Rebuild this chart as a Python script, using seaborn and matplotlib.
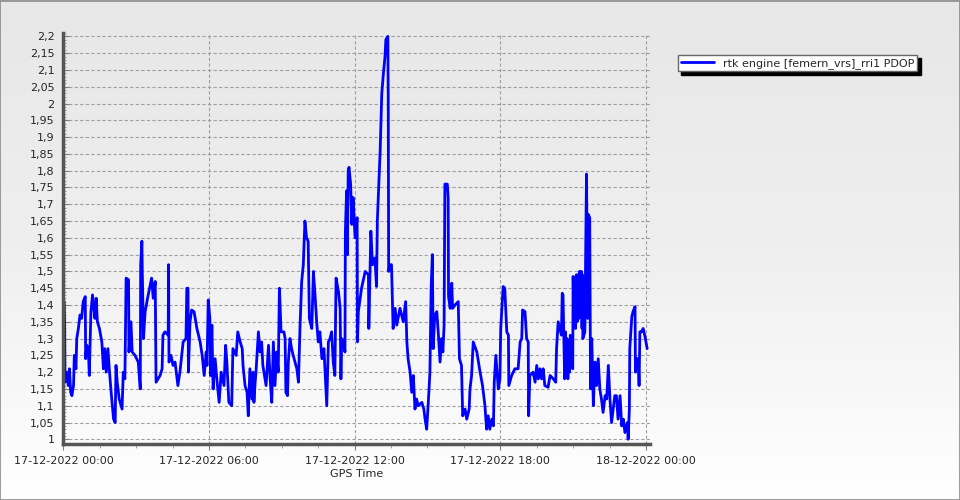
import numpy as np
import pandas as pd
import matplotlib
matplotlib.use('Agg')
import matplotlib.pyplot as plt
import matplotlib.dates as mdates
import matplotlib.ticker as mticker
from matplotlib.patches import Rectangle
import seaborn as sns

# minutes after 17-12-2022 00:00 and PDOP values
minutes = [2, 3, 4, 8, 12, 15, 18, 21, 25, 27, 31, 33, 37, 41, 45, 49, 54, 55, 58, 62,
           64, 68, 72, 74, 78, 81, 84, 89, 95, 99, 102, 106, 110, 114, 118, 124, 128, 130, 133, 138,
           145, 148, 152, 155, 161, 162, 167, 170, 177, 185, 190, 191, 194, 195, 198, 202, 208, 213, 218, 222,
           227, 229, 234, 239, 244, 246, 251, 259, 260, 261, 266, 271, 276, 283, 288, 296, 303, 305, 308, 309,
           313, 317, 323, 330, 338, 343, 348, 353, 355, 358, 362, 364, 367, 370, 375, 380, 385, 390, 397, 401,
           404, 409, 416, 419, 427, 431, 437, 442, 444, 449, 454, 457, 461, 466, 469, 471, 474, 476, 482, 486,
           490, 493, 501, 507, 511, 515, 519, 523, 527, 531, 534, 538, 545, 548, 550, 554, 556, 560, 564, 568,
           577, 581, 585, 589, 593, 597, 601, 605, 608, 614, 618, 622, 626, 630, 634, 639, 644, 651, 655, 659,
           663, 667, 671, 674, 680, 684, 686, 688, 692, 696, 697, 700, 702, 704, 706, 710, 713, 716, 721, 726,
           727, 729, 737, 746, 754, 755, 760, 764, 770, 774, 776, 778, 783, 787, 791, 795, 797, 802, 803, 804,
           807, 811, 815, 820, 824, 832, 840, 846, 849, 852, 857, 861, 865, 869, 873, 877, 886, 891, 894, 898,
           902, 906, 909, 912, 914, 918, 923, 927, 931, 935, 938, 941, 943, 949, 951, 952, 956, 960, 962, 968,
           976, 979, 984, 987, 993, 997, 1003, 1005, 1009, 1013, 1022, 1030, 1036, 1042, 1046, 1050, 1054, 1059, 1063, 1065,
           1069, 1072, 1075, 1079, 1081, 1087, 1091, 1096, 1100, 1101, 1108, 1116, 1124, 1129, 1133, 1135, 1141, 1145, 1149, 1150,
           1153, 1161, 1166, 1170, 1174, 1178, 1182, 1186, 1190, 1198, 1203, 1211, 1217, 1219, 1223, 1227, 1231, 1233, 1235, 1237,
           1239, 1241, 1243, 1245, 1247, 1249, 1251, 1253, 1255, 1257, 1259, 1260, 1262, 1264, 1266, 1268, 1270, 1272, 1274, 1276,
           1278, 1280, 1282, 1283, 1284, 1289, 1293, 1296, 1297, 1301, 1303, 1306, 1310, 1314, 1318, 1322, 1326, 1330, 1334, 1339,
           1343, 1347, 1351, 1355, 1359, 1363, 1367, 1371, 1376, 1380, 1384, 1388, 1394, 1396, 1399, 1400, 1405, 1408, 1413, 1414,
           1417, 1421, 1423, 1425, 1429, 1433, 1437, 1443]
pdop = [1.41, 1.35, 1.17, 1.20, 1.16, 1.21, 1.14, 1.13, 1.16, 1.25, 1.21, 1.30, 1.33, 1.37, 1.36, 1.41, 1.425, 1.24, 1.28, 1.26,
        1.19, 1.38, 1.43, 1.40, 1.36, 1.42, 1.35, 1.33, 1.29, 1.21, 1.27, 1.20, 1.27, 1.20, 1.14, 1.06, 1.05, 1.22, 1.17, 1.12,
        1.09, 1.20, 1.18, 1.48, 1.475, 1.26, 1.35, 1.26, 1.25, 1.23, 1.15, 1.52, 1.59, 1.50, 1.30, 1.38, 1.42, 1.45, 1.48, 1.42,
        1.47, 1.17, 1.18, 1.19, 1.21, 1.31, 1.32, 1.31, 1.52, 1.23, 1.25, 1.22, 1.23, 1.16, 1.20, 1.29, 1.30, 1.45, 1.45, 1.20,
        1.35, 1.385, 1.38, 1.33, 1.29, 1.25, 1.19, 1.26, 1.22, 1.415, 1.36, 1.19, 1.34, 1.15, 1.24, 1.17, 1.11, 1.20, 1.16, 1.28,
        1.23, 1.11, 1.10, 1.27, 1.25, 1.32, 1.29, 1.27, 1.22, 1.16, 1.14, 1.07, 1.21, 1.12, 1.20, 1.11, 1.17, 1.20, 1.32, 1.26,
        1.29, 1.22, 1.16, 1.28, 1.18, 1.11, 1.29, 1.16, 1.26, 1.20, 1.45, 1.32, 1.32, 1.30, 1.14, 1.13, 1.23, 1.30, 1.27, 1.25,
        1.21, 1.17, 1.34, 1.47, 1.52, 1.65, 1.60, 1.59, 1.36, 1.33, 1.50, 1.43, 1.35, 1.29, 1.32, 1.24, 1.27, 1.10, 1.29, 1.30,
        1.32, 1.23, 1.19, 1.48, 1.44, 1.39, 1.18, 1.30, 1.29, 1.26, 1.62, 1.74, 1.55, 1.80, 1.81, 1.76, 1.64, 1.72, 1.60, 1.66,
        1.29, 1.38, 1.45, 1.50, 1.49, 1.33, 1.62, 1.52, 1.54, 1.455, 1.65, 1.71, 1.86, 2.03, 2.09, 2.14, 2.19, 2.20, 2.00, 1.50,
        1.52, 1.52, 1.33, 1.39, 1.34, 1.39, 1.35, 1.41, 1.29, 1.24, 1.20, 1.14, 1.19, 1.09, 1.12, 1.10, 1.11, 1.09, 1.06, 1.03,
        1.11, 1.20, 1.45, 1.55, 1.27, 1.37, 1.38, 1.31, 1.23, 1.30, 1.26, 1.34, 1.76, 1.76, 1.72, 1.425, 1.39, 1.465, 1.39, 1.40,
        1.41, 1.24, 1.22, 1.07, 1.09, 1.06, 1.09, 1.15, 1.19, 1.29, 1.26, 1.20, 1.16, 1.10, 1.03, 1.07, 1.03, 1.06, 1.04, 1.17,
        1.25, 1.20, 1.15, 1.18, 1.33, 1.455, 1.45, 1.32, 1.31, 1.16, 1.19, 1.21, 1.21, 1.29, 1.30, 1.385, 1.38, 1.30, 1.29, 1.07,
        1.19, 1.20, 1.17, 1.22, 1.18, 1.21, 1.18, 1.21, 1.16, 1.155, 1.19, 1.18, 1.17, 1.27, 1.35, 1.33, 1.31, 1.435, 1.43, 1.30,
        1.18, 1.32, 1.19, 1.30, 1.18, 1.28, 1.20, 1.31, 1.22, 1.27, 1.21, 1.485, 1.34, 1.48, 1.33, 1.49, 1.35, 1.49, 1.36, 1.50,
        1.37, 1.50, 1.33, 1.49, 1.30, 1.32, 1.79, 1.36, 1.67, 1.66, 1.15, 1.30, 1.10, 1.23, 1.16, 1.24, 1.15, 1.12, 1.08, 1.13,
        1.12, 1.22, 1.12, 1.05, 1.09, 1.13, 1.13, 1.06, 1.13, 1.04, 1.06, 1.02, 1.05, 1.00, 1.09, 1.27, 1.365, 1.38, 1.395, 1.20,
        1.24, 1.24, 1.16, 1.32, 1.32, 1.33, 1.31, 1.27]

series_name = 'rtk engine [femern_vrs]_rri1 PDOP'
y_ticks = [1.0, 1.05, 1.1, 1.15, 1.2, 1.25, 1.3, 1.35, 1.4, 1.45, 1.5, 1.55, 1.6,
           1.65, 1.7, 1.75, 1.8, 1.85, 1.9, 1.95, 2.0, 2.05, 2.1, 2.15, 2.2]

start = pd.Timestamp('2022-12-17 00:00')
df = pd.DataFrame({'time': start + pd.to_timedelta(minutes, unit='m'), 'pdop': pdop})

sns.set_theme(style='white')
plt.rcParams['font.family'] = ['DejaVu Sans']
plt.rcParams['font.size'] = 8

fig = plt.figure(figsize=(9.6, 5.0), dpi=100)

# grey-to-white background gradient with a thin frame
bg = fig.add_axes([0, 0, 1, 1], zorder=-10)
grad = np.linspace(0, 1, 256).reshape(-1, 1)
bg.imshow(grad, aspect='auto', cmap=matplotlib.colors.LinearSegmentedColormap.from_list(
    'bg', ['#e7e7e7', '#efefef', '#ffffff']), extent=[0, 1, 0, 1], origin='upper')
bg.add_patch(Rectangle((0.0005, 0.001), 0.999, 0.998, fill=False, edgecolor='#8a8a8a', lw=1.2))
bg.set_xlim(0, 1)
bg.set_ylim(0, 1)
bg.axis('off')

ax = fig.add_axes([63 / 960, 56 / 500, 587 / 960, 411 / 500])
ax.patch.set_alpha(0)

sns.lineplot(data=df, x='time', y='pdop', ax=ax, color='#0000ff', linewidth=2.0,
             estimator=None, sort=False, label=series_name, legend=False)

ax.set_ylim(0.986, 2.21)
ax.set_xlim(start - pd.Timedelta(minutes=1), start + pd.Timedelta(minutes=1450))

ax.yaxis.set_major_locator(mticker.FixedLocator(y_ticks))
ax.yaxis.set_minor_locator(mticker.MultipleLocator(0.01))
ax.yaxis.set_major_formatter(mticker.FuncFormatter(lambda v, p: f'{v:g}'.replace('.', ',')))
ax.xaxis.set_major_locator(mticker.MultipleLocator(0.25))
ax.xaxis.set_minor_locator(mticker.MultipleLocator(0.0625))
ax.xaxis.set_major_formatter(mdates.DateFormatter('%d-%m-%Y %H:%M'))

ax.grid(True, which='major', color='#a0a0a0', linestyle=(0, (3, 2)), linewidth=0.8)
for s in ['top', 'right']:
    ax.spines[s].set_visible(False)
for s in ['left', 'bottom']:
    ax.spines[s].set_visible(True)
    ax.spines[s].set_color('#555555')
    ax.spines[s].set_linewidth(2.5)

ax.tick_params(axis='y', which='major', direction='in', length=4, width=0.8, color='#808080',
               labelsize=8, pad=6, left=True)
ax.tick_params(axis='y', which='minor', direction='in', length=2, width=0.6, color='#909090', left=True)
ax.tick_params(axis='x', which='major', direction='out', length=4, width=0.8, color='#808080',
               labelsize=8, pad=5, bottom=True)
ax.tick_params(axis='x', which='minor', direction='out', length=3, width=0.6, color='#909090', bottom=True)

ax.set_xlabel('GPS Time', fontsize=8, labelpad=2)
ax.set_ylabel('')

handles, labels = ax.get_legend_handles_labels()
fig.legend(handles, labels, loc='upper left', bbox_to_anchor=(678 / 960, 1 - 55 / 500),
           frameon=True, fancybox=False, shadow={'color': 'black', 'alpha': 1, 'ox': 2.5, 'oy': -2.5},
           edgecolor='#666666', facecolor='white', framealpha=1, fontsize=8,
           borderpad=0.25, handlelength=3.0, handletextpad=0.8, borderaxespad=0)

fig.savefig('out.png', dpi=100)
